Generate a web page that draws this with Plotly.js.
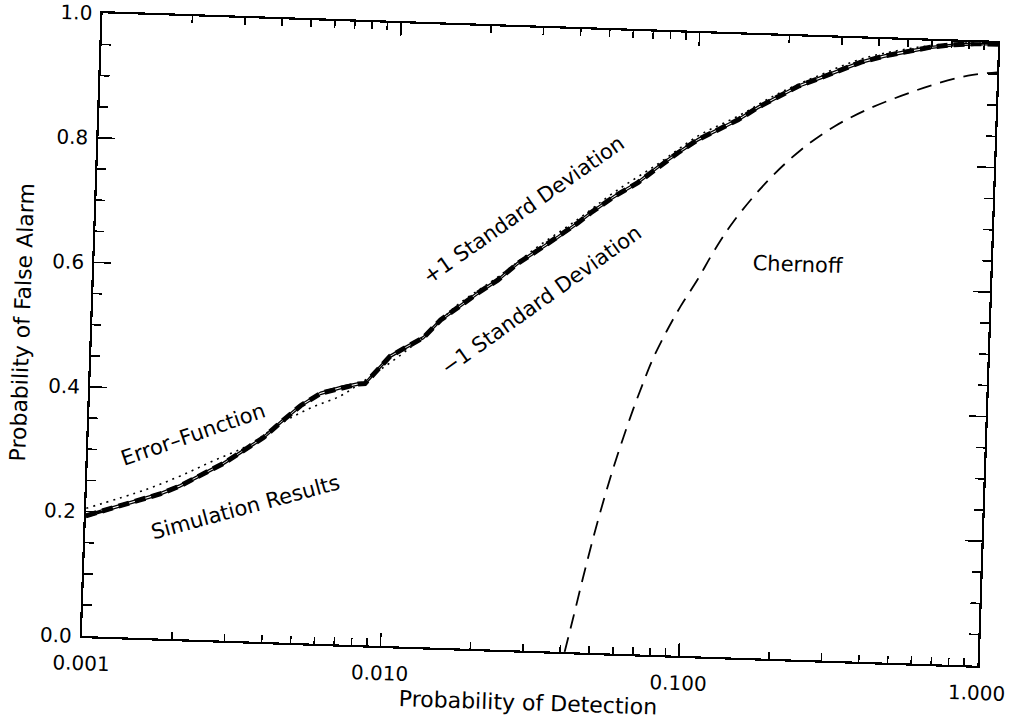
<!DOCTYPE html>
<html>
<head>
<meta charset="utf-8">
<script src="https://cdn.plot.ly/plotly-3.0.1.min.js"></script>
<style>
  html, body { margin: 0; padding: 0; background: #fff; overflow: hidden; width: 1010px; height: 721px; }
  #chart { width: 1050px; height: 740px; transform: rotate(1.9deg); transform-origin: 540px 340px; }
</style>
</head>
<body>
<div id="chart"></div>
<script>
// Simulation results (probability of detection vs probability of false alarm)
const simX = [0.001, 0.00123, 0.00148, 0.00176, 0.00205, 0.00245, 0.00284, 0.00331, 0.00385, 0.00437,
              0.00508, 0.00591, 0.00688, 0.00789, 0.0083, 0.0090, 0.0100, 0.01107, 0.01288, 0.01463,
              0.01663, 0.01932, 0.02248, 0.02612, 0.0304, 0.03532, 0.04106, 0.04528, 0.05387, 0.06457,
              0.07502, 0.0873, 0.1015, 0.1182, 0.1375, 0.1599, 0.186, 0.2165, 0.2578, 0.3004,
              0.3496, 0.4168, 0.501, 0.5977, 0.7128, 0.8571, 1.0];
const simY = [0.193, 0.207, 0.220, 0.232, 0.246, 0.267, 0.284, 0.306, 0.328, 0.353,
              0.381, 0.402, 0.412, 0.419, 0.420, 0.440, 0.465, 0.478, 0.497, 0.526,
              0.547, 0.571, 0.593, 0.621, 0.643, 0.665, 0.689, 0.706, 0.733, 0.757,
              0.783, 0.807, 0.829, 0.846, 0.863, 0.884, 0.902, 0.920, 0.935, 0.949,
              0.962, 0.973, 0.982, 0.990, 0.995, 0.998, 0.998];
// +1 / -1 standard deviation bounds (same detection grid as simX)
const plusY = [0.195, 0.209, 0.222, 0.234, 0.248, 0.269, 0.286, 0.308, 0.330, 0.355,
               0.383, 0.404, 0.414, 0.421, 0.422, 0.442, 0.467, 0.480, 0.499, 0.528,
               0.549, 0.573, 0.595, 0.623, 0.645, 0.667, 0.691, 0.708, 0.735, 0.759,
               0.785, 0.809, 0.831, 0.848, 0.865, 0.886, 0.904, 0.922, 0.937, 0.951,
               0.964, 0.975, 0.984, 0.991, 0.996, 0.999, 0.999];
const minusY = [0.191, 0.205, 0.218, 0.230, 0.244, 0.265, 0.282, 0.304, 0.326, 0.351,
                0.379, 0.400, 0.410, 0.417, 0.418, 0.438, 0.463, 0.476, 0.495, 0.524,
                0.545, 0.569, 0.591, 0.619, 0.641, 0.663, 0.687, 0.704, 0.731, 0.755,
                0.781, 0.805, 0.827, 0.844, 0.861, 0.882, 0.900, 0.918, 0.933, 0.947,
                0.960, 0.971, 0.980, 0.988, 0.993, 0.996, 0.997];
// Error-function approximation
const erfX = [0.001, 0.00159, 0.00205, 0.00263, 0.00341, 0.0044, 0.0055, 0.0069, 0.008, 0.0093,
              0.011, 0.0129, 0.0166, 0.0225, 0.0304, 0.0411, 0.0539, 0.0750, 0.1015, 0.1375,
              0.186, 0.2578, 0.3496, 0.501, 0.7128, 1.0];
const erfY = [0.205, 0.239, 0.262, 0.288, 0.314, 0.352, 0.378, 0.399, 0.420, 0.443,
              0.470, 0.499, 0.551, 0.598, 0.649, 0.695, 0.740, 0.788, 0.835, 0.869,
              0.907, 0.940, 0.967, 0.986, 0.997, 0.999];
// Chernoff bound
const chX = [0.0414, 0.0437, 0.0468, 0.0501, 0.0537, 0.0575, 0.0617, 0.0661, 0.0708, 0.0760,
             0.0841, 0.0927, 0.1050, 0.1178, 0.1365, 0.1758, 0.2249, 0.2884, 0.3733, 0.4797,
             0.6166, 0.7998, 1.0];
const chY = [0.000, 0.052, 0.120, 0.184, 0.244, 0.298, 0.348, 0.394, 0.436, 0.476,
             0.522, 0.561, 0.605, 0.650, 0.700, 0.767, 0.818, 0.857, 0.887, 0.910,
             0.930, 0.946, 0.953];

// Axis ticks
const xTickVals = [0.001, 0.01, 0.1, 1];
const xTickText = ['0.001', '0.010', '0.100', '1.000'];
const xMinorVals = [0.002, 0.003, 0.004, 0.005, 0.006, 0.007, 0.008, 0.009,
                    0.02, 0.03, 0.04, 0.05, 0.06, 0.07, 0.08, 0.09,
                    0.2, 0.3, 0.4, 0.5, 0.6, 0.7, 0.8, 0.9];
const yTickVals = [0, 0.2, 0.4, 0.6, 0.8, 1.0];
const yTickText = ['0.0', '0.2', '0.4', '0.6', '0.8', '1.0'];
const yMinorVals = [0.05, 0.1, 0.15, 0.25, 0.3, 0.35, 0.45, 0.5, 0.55, 0.65, 0.7, 0.75, 0.85, 0.9, 0.95];

// Curve labels
const labelText = ['Error\u2013Function', 'Simulation Results', '+1 Standard Deviation', '\u22121 Standard Deviation', 'Chernoff'];
const labelX = [0.00224, 0.00341, 0.0268, 0.0317, 0.226];
const labelY = [0.329, 0.215, 0.707, 0.563, 0.634];
const labelAngle = [-21, -17, -37, -37.5, 0];

const FONT = 'DejaVu Sans, sans-serif';

const traces = [
  { x: chX, y: chY, mode: 'lines', line: { color: '#000', width: 1.8, dash: '15px,9px', shape: 'spline' }, hoverinfo: 'skip' },
  { x: simX, y: simY, mode: 'lines', line: { color: '#000', width: 5, dash: '11px,6px' }, hoverinfo: 'skip' },
  { x: simX, y: plusY, mode: 'lines', line: { color: '#000', width: 1.3 }, hoverinfo: 'skip' },
  { x: simX, y: minusY, mode: 'lines', line: { color: '#000', width: 1.3 }, hoverinfo: 'skip' },
  { x: erfX, y: erfY, mode: 'lines', line: { color: '#000', width: 1.6, dash: '2px,5px', shape: 'spline' }, hoverinfo: 'skip' }
];

const annotations = labelText.map((t, i) => ({
  x: Math.log10(labelX[i]), y: labelY[i], xref: 'x', yref: 'y',
  text: t, showarrow: false, textangle: labelAngle[i],
  font: { family: FONT, size: 21, color: '#000' }
}));

// Canvas is a little larger than the window so the outermost tick label is not cut
// before the slight rotation is applied; the plot box keeps the same place.
const layout = {
  width: 1050, height: 740,
  margin: { l: 92, r: 62, t: 28, b: 89 },
  paper_bgcolor: '#fff', plot_bgcolor: '#fff',
  showlegend: false,
  xaxis: {
    type: 'log', range: [-3, 0],
    tickmode: 'array', tickvals: xTickVals, ticktext: xTickText,
    ticks: 'inside', ticklen: 13, tickwidth: 1.6, tickcolor: '#000',
    showline: true, linewidth: 2.2, linecolor: '#000', mirror: 'ticks',
    showgrid: false, zeroline: false,
    tickfont: { family: FONT, size: 20, color: '#000' },
    ticklabelstandoff: 8, ticklabeloverflow: 'allow',
    minor: { tickmode: 'array', tickvals: xMinorVals, ticks: 'inside', ticklen: 7, tickwidth: 1.6, tickcolor: '#000', showgrid: false },
    title: { text: 'Probability of Detection', font: { family: FONT, size: 22, color: '#000' }, standoff: 6 }
  },
  yaxis: {
    range: [0, 1],
    tickmode: 'array', tickvals: yTickVals, ticktext: yTickText,
    ticks: 'inside', ticklen: 17, tickwidth: 1.6, tickcolor: '#000',
    showline: true, linewidth: 2.2, linecolor: '#000', mirror: 'ticks',
    showgrid: false, zeroline: false,
    tickfont: { family: FONT, size: 20, color: '#000' },
    ticklabelstandoff: 4, ticklabeloverflow: 'allow',
    minor: { tickmode: 'array', tickvals: yMinorVals, ticks: 'inside', ticklen: 9, tickwidth: 1.6, tickcolor: '#000', showgrid: false },
    title: { text: 'Probability of False Alarm', font: { family: FONT, size: 22, color: '#000' }, standoff: 14 }
  },
  annotations: annotations
};

Plotly.newPlot('chart', traces, layout, { staticPlot: true, displayModeBar: false });
</script>
</body>
</html>
